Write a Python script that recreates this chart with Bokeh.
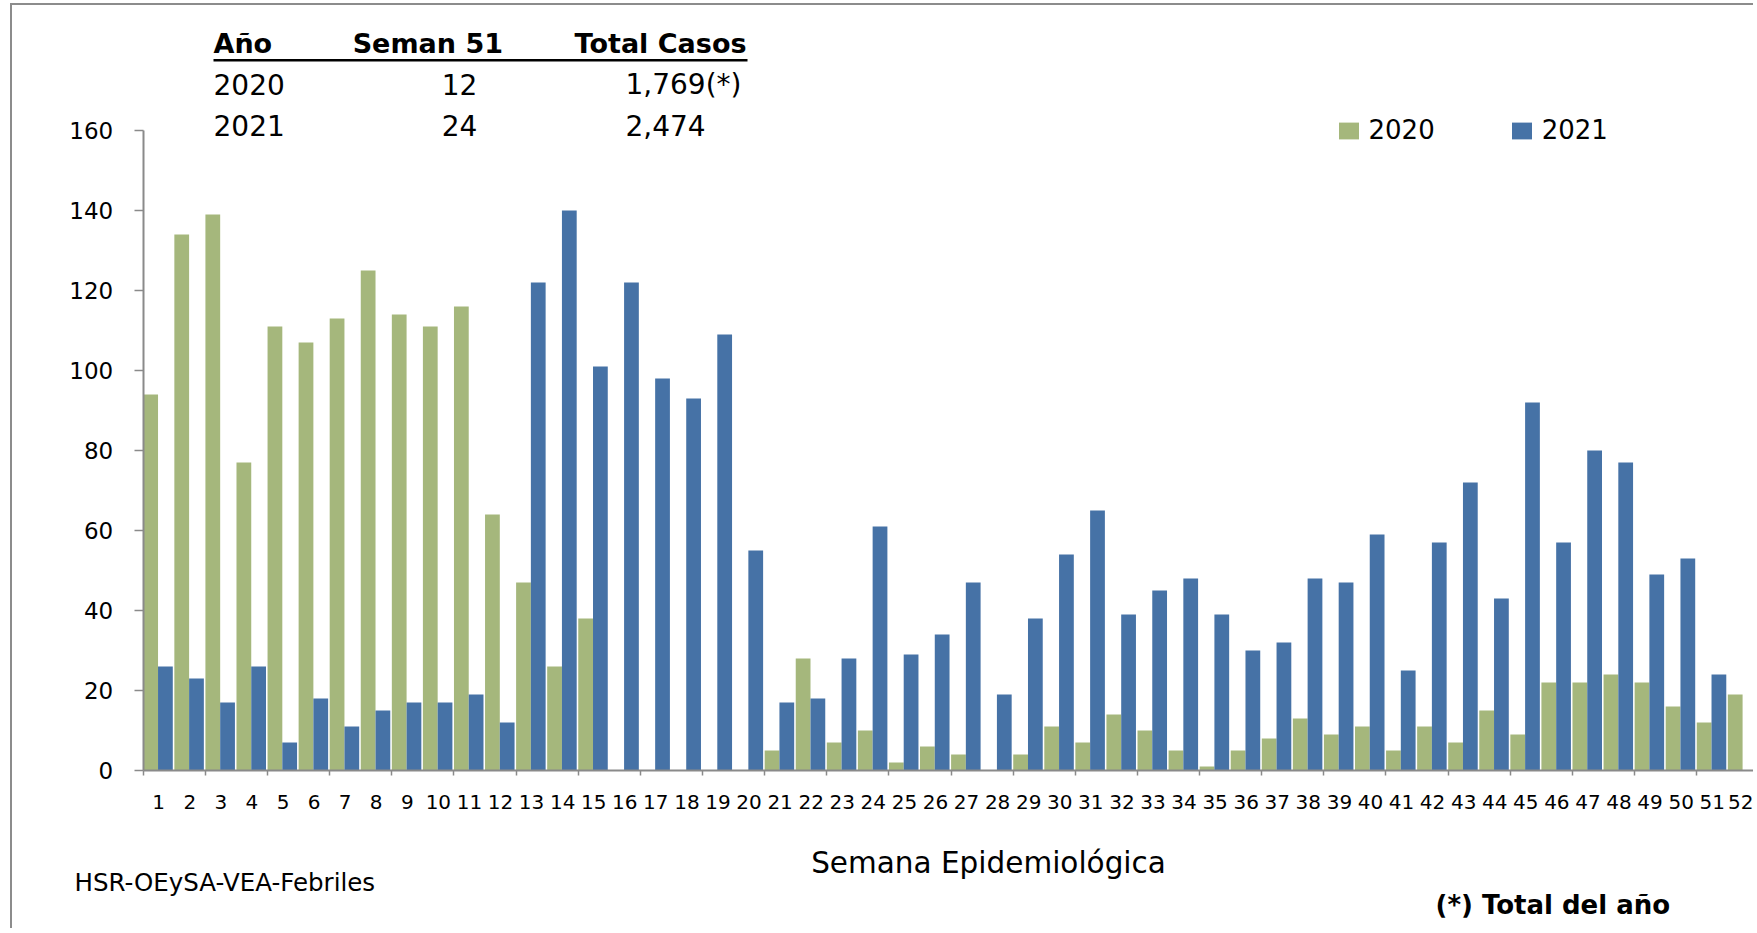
from bokeh.plotting import figure
from bokeh.models import (ColumnDataSource, Range1d, FixedTicker, Legend, LegendItem,
                          Label, BoxAnnotation)
from bokeh.transform import dodge
from bokeh.embed import file_html
from bokeh.resources import INLINE

# ---------------- data ----------------
weeks_2020 = list(range(1, 53))
cases_2020 = [94, 134, 139, 77, 111, 107, 113, 125, 114, 111, 116, 64, 47, 26, 38,
              0, 0, 0, 0, 0, 5, 28, 7, 10, 2, 6, 4, 0, 4, 11,
              7, 14, 10, 5, 1, 5, 8, 13, 9, 11,
              5, 11, 7, 15, 9, 22, 22, 24, 22, 16, 12, 19]
weeks_2021 = list(range(1, 52))
cases_2021 = [26, 23, 17, 26, 7, 18, 11, 15, 17, 17, 19, 12, 122, 140, 101, 122, 98, 93,
              109, 55, 17, 18, 28, 61, 29, 34, 47, 19, 38, 54,
              65, 39, 45, 48, 39, 30, 32, 48, 47, 59,
              25, 57, 72, 43, 92, 57, 80, 77, 49, 53, 24]
y_ticks = [0, 20, 40, 60, 80, 100, 120, 140, 160]
series_names = ["2020", "2021"]

table_header = ["Año", "Seman  51", "Total Casos"]
table_years = ["2020", "2021"]
table_week51 = ["12", "24"]
table_totals = ["1,769(*)", "2,474"]

GREEN = "#A5B77C"
BLUE = "#4672A6"
AXIS = "#8a8a8a"
FONT = "DejaVu Sans"

src20 = ColumnDataSource(dict(week=weeks_2020, cases=cases_2020))
src21 = ColumnDataSource(dict(week=weeks_2021, cases=cases_2021))

W, H = 1743, 925
p = figure(width=W, height=H, output_backend="svg", toolbar_location=None,
           x_range=Range1d(-3.7066, 52.393), y_range=Range1d(-40, 191.25))
p.min_border = 0
p.styles = {"border-left": "2px solid #8c8c8c", "border-top": "2px solid #8c8c8c",
            "margin-left": "10px", "margin-top": "3px"}
p.outline_line_color = None
p.xgrid.visible = False
p.ygrid.visible = False
p.background_fill_color = "white"
p.border_fill_color = "white"

bw = 0.475
r20 = p.vbar(x=dodge("week", -0.26, range=p.x_range), top="cases", width=bw,
             source=src20, fill_color=GREEN, line_color=None)
r21 = p.vbar(x=dodge("week", 0.215, range=p.x_range), top="cases", width=bw,
             source=src21, fill_color=BLUE, line_color=None)

# axes (drawn at fixed data locations inside the frame)
p.yaxis.fixed_location = 0.5
p.yaxis.ticker = FixedTicker(ticks=y_ticks)
p.yaxis.bounds = (0, 160)
p.yaxis.axis_line_color = AXIS
p.yaxis.axis_line_width = 2
p.yaxis.major_tick_line_color = AXIS
p.yaxis.major_tick_line_width = 1.5
p.yaxis.major_tick_out = 9
p.yaxis.major_tick_in = 0
p.yaxis.minor_tick_line_color = None
p.yaxis.major_label_standoff = 21
p.yaxis.major_label_text_font = FONT
p.yaxis.major_label_text_font_size = "23px"
p.yaxis.major_label_text_color = "black"

minor_x = [w - 0.5 for w in weeks_2020 if w % 2 == 1] + [weeks_2020[-1] + 0.5]
p.xaxis.fixed_location = 0
p.xaxis.ticker = FixedTicker(ticks=weeks_2020, minor_ticks=minor_x)
p.xaxis.bounds = (0.5, 52.5)
p.xaxis.axis_line_color = AXIS
p.xaxis.axis_line_width = 2
p.xaxis.major_tick_line_color = None
p.xaxis.major_tick_out = 0
p.xaxis.major_tick_in = 0
p.xaxis.minor_tick_line_color = AXIS
p.xaxis.minor_tick_line_width = 1.5
p.xaxis.minor_tick_out = 5
p.xaxis.minor_tick_in = 0
p.xaxis.major_label_standoff = 19
p.xaxis.major_label_text_font = FONT
p.xaxis.major_label_text_font_size = "20px"
p.xaxis.major_label_text_color = "black"

# legend
legend = Legend(items=[LegendItem(label=series_names[0], renderers=[r20]),
                       LegendItem(label=series_names[1], renderers=[r21])],
                orientation="horizontal", location=(1323.5, 785), padding=0, margin=0,
                spacing=74, label_standoff=8, glyph_width=25, glyph_height=21,
                border_line_color=None, background_fill_alpha=0,
                label_text_font=FONT, label_text_font_size="26px",
                label_text_color="black")
p.add_layout(legend)

# texts (screen units relative to frame: x from left, y up from bottom)
def lab(text, x, y, size="28px", bold=False, align="left"):
    p.add_layout(Label(x=x, y=y, x_units="screen", y_units="screen", text=text,
                       text_font=FONT, text_font_size=size,
                       text_font_style="bold" if bold else "normal",
                       text_align=align, text_baseline="middle", text_color="black"))

hy = 887
lab(table_header[0], 201, hy, size="27px", bold=True)
lab(table_header[1], 420, hy, size="27px", bold=True, align="center")
lab(table_header[2], 734, hy, size="27px", bold=True, align="right")
p.add_layout(BoxAnnotation(left=201, right=735, bottom=869, top=871.5,
                           left_units="screen", right_units="screen",
                           bottom_units="screen", top_units="screen",
                           fill_color="black", fill_alpha=1, line_color=None))
row_y = [846, 805]
for i in range(2):
    lab(table_years[i], 201, row_y[i])
    lab(table_week51[i], 447, row_y[i], align="center")
    lab(table_totals[i], 613, row_y[i])

# bottom texts
lab("Semana Epidemiológica", 976, 68, size="29.5px", align="center")
lab("HSR-OEySA-VEA-Febriles", 62, 48, size="24.5px")
lab("(*) Total del año", 1423, 26, size="26px", bold=True)

open("out.html", "w").write(file_html(p, INLINE))
